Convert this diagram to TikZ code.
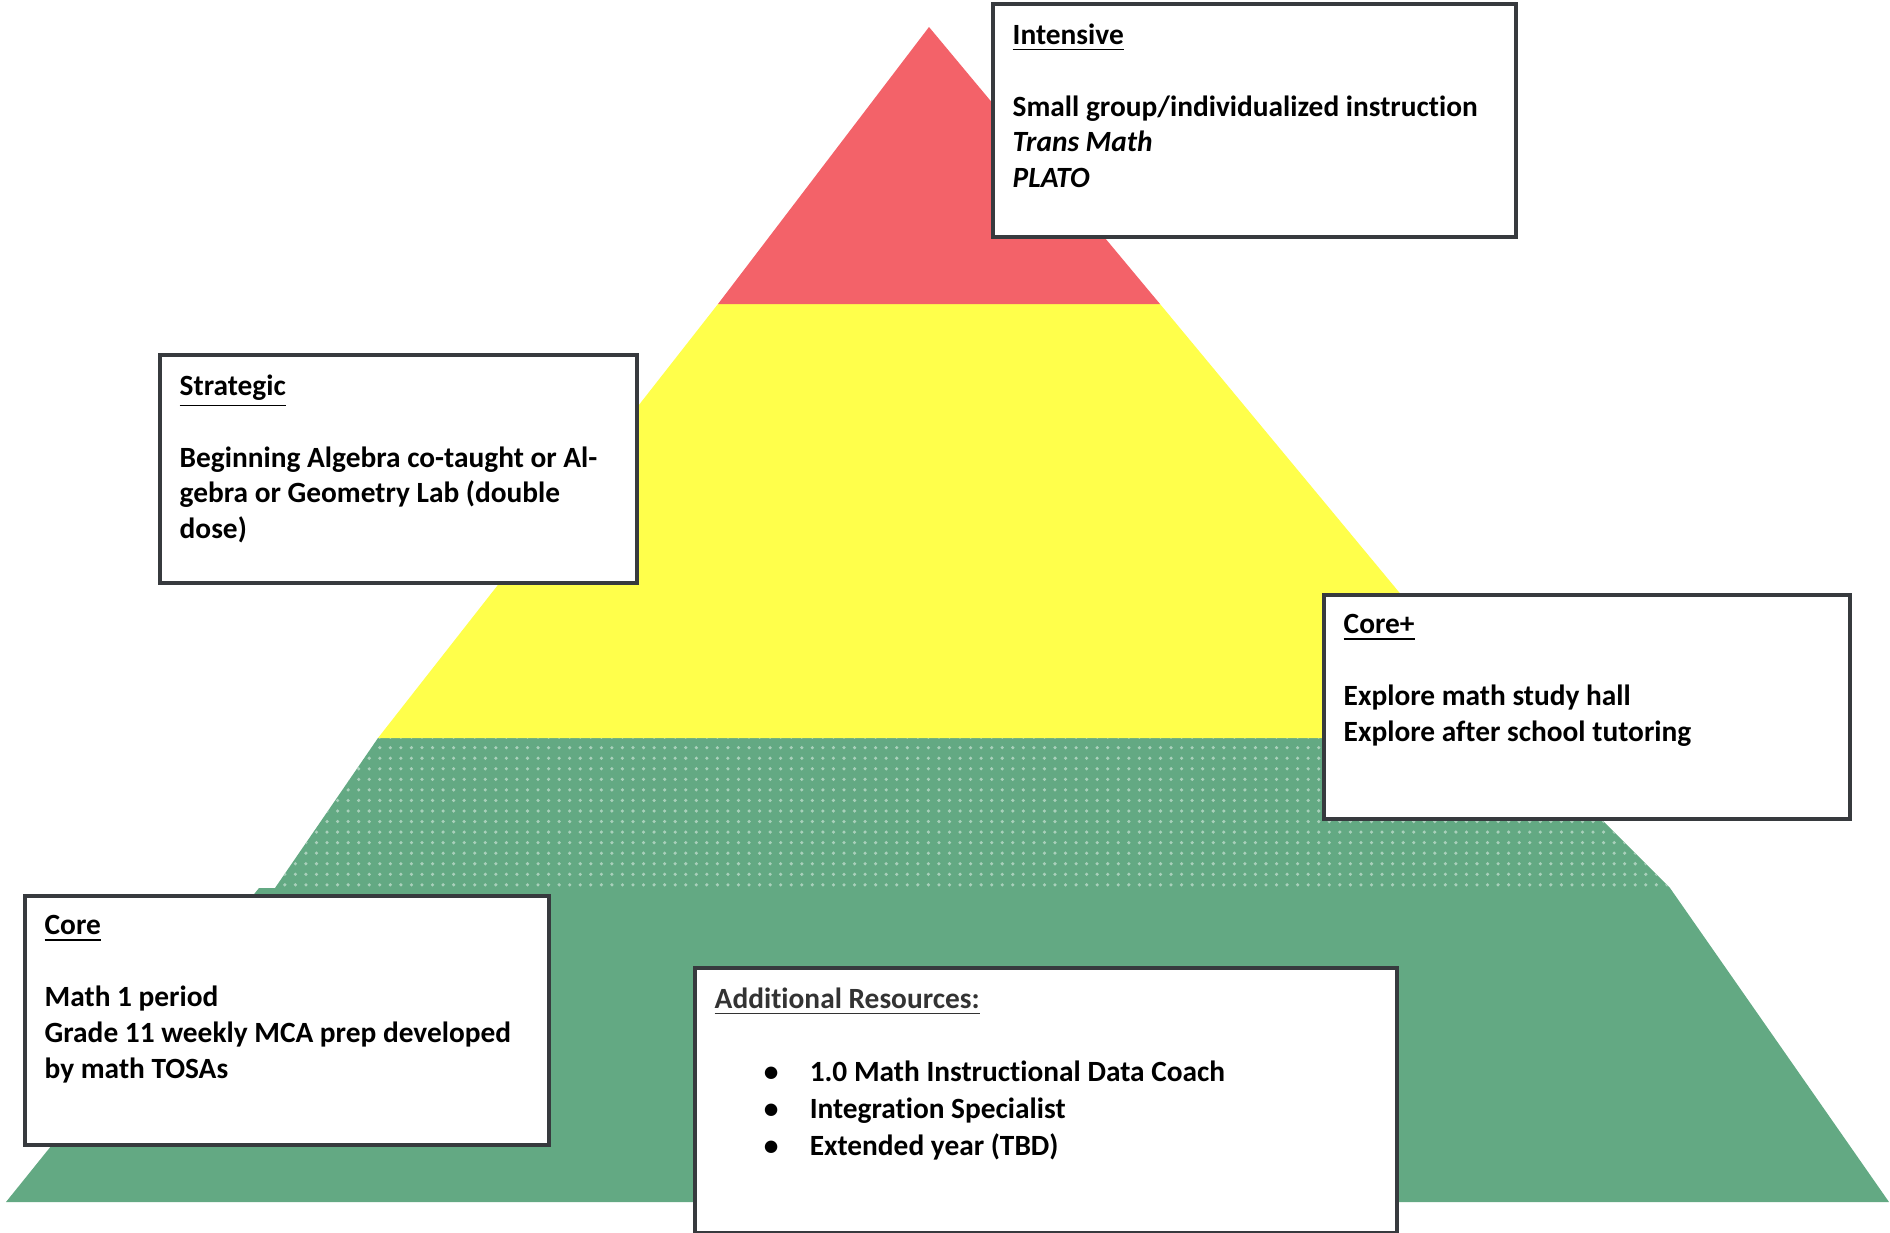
\documentclass[tikz,border=0pt]{standalone}
\usepackage{fontspec}
\setmainfont{Carlito}[Ligatures=NoCommon]
\usepackage{xcolor}
\usetikzlibrary{positioning,patterns}
\definecolor{tierred}{RGB}{243, 98, 105}
\definecolor{tieryellow}{RGB}{255, 255, 75}
\definecolor{tiergreen}{RGB}{99, 169, 131}
\definecolor{boxline}{RGB}{55, 58, 62}

\begin{document}
\begin{tikzpicture}[
  x=0.01cm, y=-0.01cm,
  tierbox/.style={draw=boxline,line width=1.1pt,fill=white,anchor=north west,inner sep=0pt},
  tiertext/.style={anchor=north west,align=left,inner sep=0pt,font=\fontsize{8.35}{10.2}\selectfont\bfseries}
]
\useasboundingbox (0,0) rectangle (1890,1233);
\fill[tiergreen] (6,1202) -- (259,888) -- (1670,888) -- (1889,1202) -- cycle;
\fill[tiergreen] (378,738) -- (275,888) -- (1670,888) -- (1520,738) -- cycle;
\fill[pattern=dots,pattern color=tiergreen!55!white] (378,738) -- (275,888) -- (1670,888) -- (1520,738) -- cycle;
\fill[tieryellow] (378,738) -- (718,304) -- (1160,304) -- (1520,738) -- cycle;
\fill[tierred] (718,304) -- (929,27) -- (1160,304) -- cycle;

\node[tierbox,minimum width=5.23cm,minimum height=2.33cm] (intensive) at (991,2) {};
\node[tiertext] (intensivetxt) at ([xshift=0.21cm,yshift=-0.21cm]intensive.north west)
  {\underline{Intensive}\\[10.2pt]Small group/individualized instruction\\\textit{Trans Math}\\\textit{PLATO}};

\node[tierbox,minimum width=4.77cm,minimum height=2.28cm] (strategic) at (158,353) {};
\node[tiertext] (strategictxt) at ([xshift=0.21cm,yshift=-0.21cm]strategic.north west)
  {\underline{Strategic}\\[10.2pt]Beginning Algebra co-taught or Al-\\gebra or Geometry Lab (double\\dose)};

\node[tierbox,minimum width=5.26cm,minimum height=2.24cm] (coreplus) at (1322,593) {};
\node[tiertext] (coreplustxt) at ([xshift=0.21cm,yshift=-0.21cm]coreplus.north west)
  {\underline{Core+}\\[10.2pt]Explore math study hall\\Explore after school tutoring};

\node[tierbox,minimum width=5.24cm,minimum height=2.49cm] (core) at (23,894) {};
\node[tiertext] (coretxt) at ([xshift=0.21cm,yshift=-0.21cm]core.north west)
  {\underline{Core}\\[10.2pt]Math 1 period\\Grade 11 weekly MCA prep developed\\by math TOSAs};

\node[tierbox,minimum width=7.02cm,minimum height=2.65cm] (resources) at (693,966) {};
\node[tiertext,text=black!80] (resourcestxt) at ([xshift=0.21cm,yshift=-0.21cm]resources.north west)
  {\underline{Additional Resources:}};
\node[tiertext,font=\fontsize{8.35}{10.6}\selectfont\bfseries] (resourcelist) at ([xshift=0.49cm,yshift=-0.73cm]resourcestxt.north west)
  {\makebox[0.46cm][l]{\textbullet}1.0 Math Instructional Data Coach\\
   \makebox[0.46cm][l]{\textbullet}Integration Specialist\\
   \makebox[0.46cm][l]{\textbullet}Extended year (TBD)};
\end{tikzpicture}
\end{document}
